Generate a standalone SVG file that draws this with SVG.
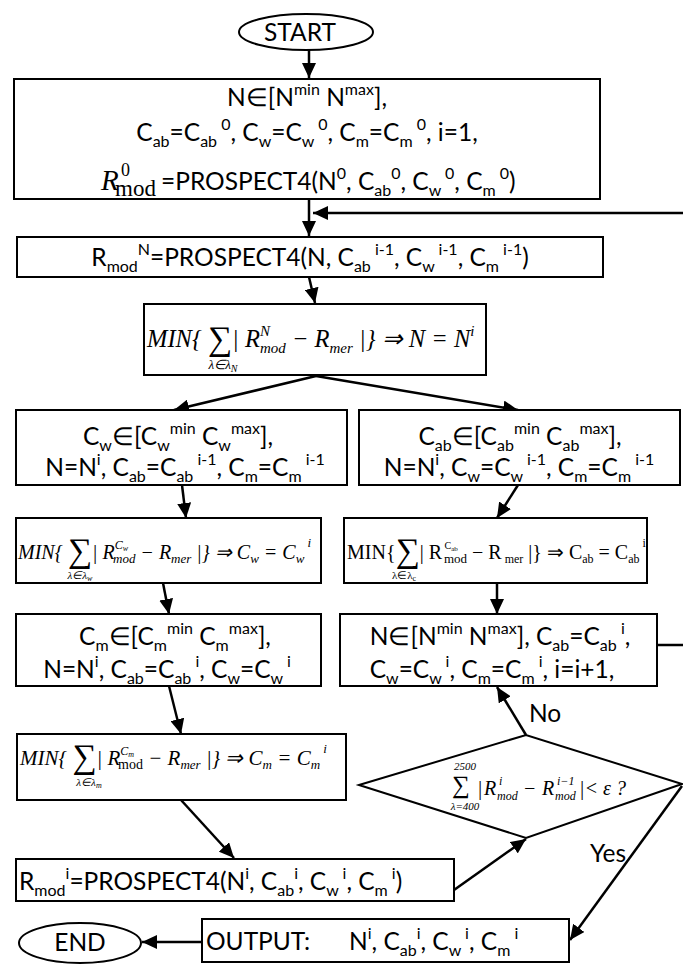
<svg xmlns="http://www.w3.org/2000/svg" width="683" height="964" viewBox="0 0 683 964">
<defs>
<style>
.bx{fill:#fff;stroke:#000;stroke-width:2}
.ln{fill:none;stroke:#000;stroke-width:2.5}
.b{font-family:Lato,"Liberation Sans",sans-serif;font-size:24.5px;fill:#000}
.s{font-size:16px}
.m{font-family:"Liberation Serif","Times New Roman",serif;font-style:italic;fill:#000}
.u{font-style:normal}
.sg{font-style:normal;font-size:34px}
</style>
<marker id="ah" markerUnits="userSpaceOnUse" markerWidth="16" markerHeight="14" refX="15" refY="7" orient="auto">
<path d="M0,0 L15,7 L0,14 z" fill="#000"/>
</marker>
</defs>

<g id="connectors">
<line class="ln" x1="309" y1="50" x2="309" y2="78" marker-end="url(#ah)"/>
<line class="ln" x1="309" y1="199" x2="309" y2="236" marker-end="url(#ah)"/>
<line class="ln" x1="683" y1="213" x2="313" y2="213" marker-end="url(#ah)"/>
<line class="ln" x1="309" y1="277" x2="315" y2="303" marker-end="url(#ah)"/>
<line class="ln" x1="316" y1="376" x2="174" y2="410" marker-end="url(#ah)"/>
<line class="ln" x1="316" y1="376" x2="518" y2="410" marker-end="url(#ah)"/>
<line class="ln" x1="182" y1="485" x2="186" y2="518" marker-end="url(#ah)"/>
<line class="ln" x1="518" y1="485" x2="497" y2="518" marker-end="url(#ah)"/>
<line class="ln" x1="163" y1="583" x2="169" y2="614" marker-end="url(#ah)"/>
<line class="ln" x1="497" y1="583" x2="497" y2="614" marker-end="url(#ah)"/>
<line class="ln" x1="169" y1="686" x2="181" y2="734" marker-end="url(#ah)"/>
<line class="ln" x1="657" y1="645" x2="683" y2="645"/>
<line class="ln" x1="526" y1="735" x2="497" y2="687" marker-end="url(#ah)"/>
<line class="ln" x1="181" y1="800" x2="234" y2="858" marker-end="url(#ah)"/>
<line class="ln" x1="454" y1="890" x2="526" y2="839" marker-end="url(#ah)"/>
<line class="ln" x1="682" y1="786" x2="570" y2="940" marker-end="url(#ah)"/>
<line class="ln" x1="202" y1="942" x2="142" y2="942" marker-end="url(#ah)"/>
<text class="b" x="529" y="722">No</text>
<text class="b" x="590" y="862">Yes</text>
</g>

<g id="start">
<ellipse class="bx" cx="306" cy="32" rx="67" ry="18"/>
<text class="b" x="300" y="41" text-anchor="middle">START</text>
</g>

<g id="init">
<rect class="bx" x="14" y="79" width="586" height="120"/>
<text class="b" x="307" y="106" text-anchor="middle">N∈[N<tspan class="s" dy="-11">min</tspan><tspan dy="11"> N</tspan><tspan class="s" dy="-11">max</tspan><tspan dy="11">],</tspan></text>
<text class="b" x="307" y="141" text-anchor="middle">C<tspan class="s" dy="6">ab</tspan><tspan dy="-6">=C</tspan><tspan class="s" dy="6">ab</tspan><tspan class="s" dy="-17"> 0</tspan><tspan dy="11">, C</tspan><tspan class="s" dy="6">w</tspan><tspan dy="-6">=C</tspan><tspan class="s" dy="6">w</tspan><tspan class="s" dy="-17"> 0</tspan><tspan dy="11">, C</tspan><tspan class="s" dy="6">m</tspan><tspan dy="-6">=C</tspan><tspan class="s" dy="6">m</tspan><tspan class="s" dy="-17"> 0</tspan><tspan dy="11">, i=1,</tspan></text>
<text class="m" x="101" y="190" font-size="29">R</text>
<text class="m u" x="121" y="176" font-size="18">0</text>
<text class="m u" x="115" y="196" font-size="23">mod</text>
<text class="b" x="161" y="190">=PROSPECT4(N<tspan class="s" dy="-11">0</tspan><tspan dy="11">, C</tspan><tspan class="s" dy="6">ab</tspan><tspan class="s" dy="-17">0</tspan><tspan dy="11">, C</tspan><tspan class="s" dy="6">w</tspan><tspan class="s" dy="-17"> 0</tspan><tspan dy="11">, C</tspan><tspan class="s" dy="6">m</tspan><tspan class="s" dy="-17"> 0</tspan><tspan dy="11">)</tspan></text>
</g>

<g id="rmodN">
<rect class="bx" x="17" y="237" width="586" height="40"/>
<text class="b" x="310" y="266" text-anchor="middle">R<tspan class="s" dy="6">mod</tspan><tspan class="s" dy="-17">N</tspan><tspan dy="11">=PROSPECT4(N, C</tspan><tspan class="s" dy="6">ab</tspan><tspan class="s" dy="-17"> i-1</tspan><tspan dy="11">, C</tspan><tspan class="s" dy="6">w</tspan><tspan class="s" dy="-17"> i-1</tspan><tspan dy="11">, C</tspan><tspan class="s" dy="6">m</tspan><tspan class="s" dy="-17"> i-1</tspan><tspan dy="11">)</tspan></text>
</g>

<g id="minN">
<rect class="bx" x="144" y="304" width="342" height="71"/>
<text class="m" x="147" y="347" font-size="24.5">MIN{ <tspan class="sg" dy="3">∑</tspan><tspan dy="-3">| R</tspan><tspan font-size="15" dy="-11">N</tspan><tspan font-size="15" dx="-10" dy="17">mod</tspan><tspan dy="-6"> − R</tspan><tspan font-size="15" dy="6">mer</tspan><tspan dy="-6"> |} ⇒ N = N</tspan><tspan font-size="15" dy="-11">i</tspan></text>
<text class="m" x="223" y="369" font-size="13" text-anchor="middle">λ∈λ<tspan font-size="10" dy="3">N</tspan></text>
</g>

<g id="cw">
<rect class="bx" x="16" y="410" width="331" height="75"/>
<text class="b" x="178" y="445" text-anchor="middle">C<tspan class="s" dy="6">w</tspan><tspan dy="-6">∈[C</tspan><tspan class="s" dy="6">w</tspan><tspan class="s" dy="-17">min</tspan><tspan dy="11"> C</tspan><tspan class="s" dy="6">w</tspan><tspan class="s" dy="-17">max</tspan><tspan dy="11">],</tspan></text>
<text class="b" x="185" y="476" text-anchor="middle">N=N<tspan class="s" dy="-11">i</tspan><tspan dy="11">, C</tspan><tspan class="s" dy="6">ab</tspan><tspan dy="-6">=C</tspan><tspan class="s" dy="6">ab</tspan><tspan class="s" dy="-17"> i-1</tspan><tspan dy="11">, C</tspan><tspan class="s" dy="6">m</tspan><tspan dy="-6">=C</tspan><tspan class="s" dy="6">m</tspan><tspan class="s" dy="-17"> i-1</tspan></text>
</g>

<g id="cab">
<rect class="bx" x="359" y="410" width="321" height="75"/>
<text class="b" x="520" y="445" text-anchor="middle">C<tspan class="s" dy="6">ab</tspan><tspan dy="-6">∈[C</tspan><tspan class="s" dy="6">ab</tspan><tspan class="s" dy="-17">min</tspan><tspan dy="11"> C</tspan><tspan class="s" dy="6">ab</tspan><tspan class="s" dy="-17">max</tspan><tspan dy="11">],</tspan></text>
<text class="b" x="519" y="476" text-anchor="middle">N=N<tspan class="s" dy="-11">i</tspan><tspan dy="11">, C</tspan><tspan class="s" dy="6">w</tspan><tspan dy="-6">=C</tspan><tspan class="s" dy="6">w</tspan><tspan class="s" dy="-17"> i-1</tspan><tspan dy="11">, C</tspan><tspan class="s" dy="6">m</tspan><tspan dy="-6">=C</tspan><tspan class="s" dy="6">m</tspan><tspan class="s" dy="-17"> i-1</tspan></text>
</g>

<g id="mincw">
<rect class="bx" x="16" y="518" width="305" height="65"/>
<text class="m" x="18" y="559" font-size="20">MIN{ <tspan class="sg" font-size="30" dy="3">∑</tspan><tspan dy="-3">| R</tspan><tspan font-size="12" dy="-10">C</tspan><tspan font-size="8" dy="2">w</tspan><tspan font-size="13" dx="-15" dy="12">mod</tspan><tspan dy="-4"> − R</tspan><tspan font-size="13" dy="4">mer</tspan><tspan dy="-4"> |} ⇒ C</tspan><tspan font-size="13" dy="4">w</tspan><tspan dy="-4"> = C</tspan><tspan font-size="13" dy="4">w</tspan><tspan font-size="13" dy="-16"> i</tspan></text>
<text class="m" x="80" y="579" font-size="11" text-anchor="middle">λ∈λ<tspan font-size="8" dy="2">w</tspan></text>
</g>

<g id="mincab">
<rect class="bx" x="344" y="518" width="303" height="65"/>
<text class="m u" x="347" y="559" font-size="20">MIN{<tspan class="sg" font-size="30" dy="3">∑</tspan><tspan dy="-3">| R</tspan><tspan font-size="10" dy="-10"> C</tspan><tspan font-size="7" dy="2">ab</tspan><tspan font-size="13" dx="-14" dy="12">mod</tspan><tspan dy="-4"> − R</tspan><tspan font-size="12" dy="4"> mer</tspan><tspan dy="-4">  |} ⇒ C</tspan><tspan font-size="12" dy="4">ab</tspan><tspan dy="-4"> = C</tspan><tspan font-size="12" dy="4">ab</tspan><tspan font-size="12" dy="-16"> i</tspan></text>
<text class="m u" x="404" y="579" font-size="11" text-anchor="middle">λ∈λ<tspan font-size="8" dy="2">c</tspan></text>
</g>

<g id="cm">
<rect class="bx" x="16" y="614" width="305" height="72"/>
<text class="b" x="175" y="645" text-anchor="middle">C<tspan class="s" dy="6">m</tspan><tspan dy="-6">∈[C</tspan><tspan class="s" dy="6">m</tspan><tspan class="s" dy="-17">min</tspan><tspan dy="11"> C</tspan><tspan class="s" dy="6">m</tspan><tspan class="s" dy="-17">max</tspan><tspan dy="11">],</tspan></text>
<text class="b" x="167" y="678" text-anchor="middle">N=N<tspan class="s" dy="-11">i</tspan><tspan dy="11">, C</tspan><tspan class="s" dy="6">ab</tspan><tspan dy="-6">=C</tspan><tspan class="s" dy="6">ab</tspan><tspan class="s" dy="-17"> i</tspan><tspan dy="11">, C</tspan><tspan class="s" dy="6">w</tspan><tspan dy="-6">=C</tspan><tspan class="s" dy="6">w</tspan><tspan class="s" dy="-17"> i</tspan></text>
</g>

<g id="update">
<rect class="bx" x="340" y="614" width="317" height="72"/>
<text class="b" x="500" y="645" text-anchor="middle">N∈[N<tspan class="s" dy="-11">min</tspan><tspan dy="11"> N</tspan><tspan class="s" dy="-11">max</tspan><tspan dy="11">], C</tspan><tspan class="s" dy="6">ab</tspan><tspan dy="-6">=C</tspan><tspan class="s" dy="6">ab</tspan><tspan class="s" dy="-17"> i</tspan><tspan dy="11">,</tspan></text>
<text class="b" x="492" y="678" text-anchor="middle">C<tspan class="s" dy="6">w</tspan><tspan dy="-6">=C</tspan><tspan class="s" dy="6">w</tspan><tspan class="s" dy="-17"> i</tspan><tspan dy="11">, C</tspan><tspan class="s" dy="6">m</tspan><tspan dy="-6">=C</tspan><tspan class="s" dy="6">m</tspan><tspan class="s" dy="-17"> i</tspan><tspan dy="11">, i=i+1,</tspan></text>
</g>

<g id="mincm">
<rect class="bx" x="17" y="734" width="329" height="66"/>
<text class="m" x="20" y="765" font-size="21">MIN{ <tspan class="sg" font-size="31" dy="3">∑</tspan><tspan dy="-3">| R</tspan><tspan font-size="12" dy="-10">C</tspan><tspan font-size="8" dy="2">m</tspan><tspan class="u" font-size="14" dx="-16" dy="12">mod</tspan><tspan dy="-4"> − R</tspan><tspan font-size="13" dy="4">mer</tspan><tspan dy="-4"> |} ⇒ C</tspan><tspan font-size="13" dy="4">m</tspan><tspan dy="-4"> = C</tspan><tspan font-size="13" dy="4">m</tspan><tspan font-size="13" dy="-16"> i</tspan></text>
<text class="m" x="89" y="786" font-size="11" text-anchor="middle">λ∈λ<tspan font-size="8" dy="2">m</tspan></text>
</g>

<g id="check">
<polygon class="bx" points="359,785 526,735 682,784 526,838"/>
<text class="m u" x="452" y="793" font-size="25">∑</text>
<text class="m" x="465" y="770" font-size="11" text-anchor="middle">2500</text>
<text class="m" x="465" y="810" font-size="11" text-anchor="middle">λ=400</text>
<text class="m" font-size="20"><tspan x="477" y="795">|</tspan><tspan x="484" y="795">R</tspan><tspan x="499" y="785" font-size="12">i</tspan><tspan x="497" y="800" font-size="12">mod</tspan><tspan x="523" y="795">−</tspan><tspan x="542" y="795">R</tspan><tspan x="557" y="785" font-size="12">i−1</tspan><tspan x="555" y="800" font-size="12">mod</tspan><tspan x="579" y="795">|&lt; ε ?</tspan></text>
</g>

<g id="rmodi">
<rect class="bx" x="16" y="859" width="438" height="42"/>
<text class="b" x="19" y="890">R<tspan class="s" dy="6">mod</tspan><tspan class="s" dy="-17">i</tspan><tspan dy="11">=PROSPECT4(N</tspan><tspan class="s" dy="-11">i</tspan><tspan dy="11">, C</tspan><tspan class="s" dy="6">ab</tspan><tspan class="s" dy="-17">i</tspan><tspan dy="11">, C</tspan><tspan class="s" dy="6">w</tspan><tspan class="s" dy="-17"> i</tspan><tspan dy="11">, C</tspan><tspan class="s" dy="6">m</tspan><tspan class="s" dy="-17"> i</tspan><tspan dy="11">)</tspan></text>
</g>

<g id="output">
<rect class="bx" x="202" y="919" width="367" height="43"/>
<text class="b" x="206" y="950">OUTPUT:</text>
<text class="b" x="349" y="950">N<tspan class="s" dy="-11">i</tspan><tspan dy="11">, C</tspan><tspan class="s" dy="6">ab</tspan><tspan class="s" dy="-17">i</tspan><tspan dy="11">, C</tspan><tspan class="s" dy="6">w</tspan><tspan class="s" dy="-17"> i</tspan><tspan dy="11">, C</tspan><tspan class="s" dy="6">m</tspan><tspan class="s" dy="-17"> i</tspan></text>
</g>

<g id="end">
<ellipse class="bx" cx="80" cy="943" rx="61" ry="20"/>
<text class="b" x="80" y="951" text-anchor="middle">END</text>
</g>
</svg>
